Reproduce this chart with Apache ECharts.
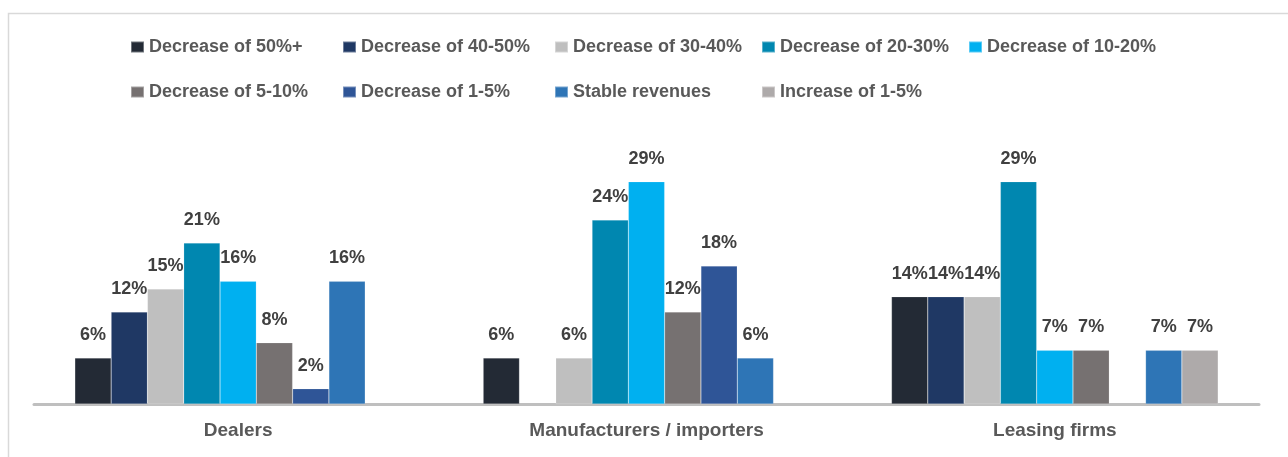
<!DOCTYPE html>
<html>
<head>
<meta charset="utf-8">
<title>Revenue change by segment</title>
<script src="https://cdn.jsdelivr.net/npm/echarts@6/dist/echarts.min.js"></script>
<style>
  html, body { margin: 0; padding: 0; background: #ffffff; }
  #chart { width: 1288px; height: 457px; }
</style>
</head>
<body>
<div id="chart"></div>
<script>
// Segments on the category axis
const categories = ['Dealers', 'Manufacturers / importers', 'Leasing firms'];

// Revenue-change buckets (one series each)
const bucketNames = [
  'Decrease of 50%+',
  'Decrease of 40-50%',
  'Decrease of 30-40%',
  'Decrease of 20-30%',
  'Decrease of 10-20%',
  'Decrease of 5-10%',
  'Decrease of 1-5%',
  'Stable revenues',
  'Increase of 1-5%'
];

// Share of respondents (%) per segment: Dealers, Manufacturers / importers, Leasing firms
const decrease50plus = [6, 6, 14];
const decrease40to50 = [12, null, 14];
const decrease30to40 = [15, 6, 14];
const decrease20to30 = [21, 24, 29];
const decrease10to20 = [16, 29, 7];
const decrease5to10  = [8, 12, 7];
const decrease1to5   = [2, 18, null];
const stableRevenue  = [16, 6, 7];
const increase1to5   = [null, null, 7];

const seriesValues = [
  decrease50plus, decrease40to50, decrease30to40, decrease20to30, decrease10to20,
  decrease5to10, decrease1to5, stableRevenue, increase1to5
];

const bucketColors = [
  '#232a35', '#1f3864', '#bfbfbf', '#0087b0', '#00b0f0',
  '#767171', '#2f5597', '#2e75b6', '#aeaaaa'
];

const FONT = '"Liberation Sans", Arial, Helvetica, sans-serif';

// Legend laid out as a two-row grid of fixed columns
const legendColX = [130, 342, 554, 761, 968];
const legendRowY = [38, 83];
const legends = bucketNames.map((name, i) => ({
  data: [name],
  left: legendColX[i % 5],
  top: legendRowY[Math.floor(i / 5)],
  padding: 0,
  icon: 'rect',
  itemWidth: 13,
  itemHeight: 11,
  selectedMode: false,
  textStyle: { color: '#595959', fontSize: 18, fontWeight: 'bold', fontFamily: FONT }
}));

const chart = echarts.init(document.getElementById('chart'), null, { renderer: 'canvas' });

chart.setOption({
  animation: false,
  backgroundColor: '#ffffff',
  graphic: [{
    type: 'rect',
    left: 6,
    top: 11,
    shape: { width: 1300, height: 500 },
    style: { fill: 'none', stroke: '#d9d9d9', lineWidth: 1.5 },
    silent: true,
    z: -10
  }],
  legend: legends,
  grid: { left: 34, right: 29, top: 174, bottom: 53, containLabel: false },
  xAxis: {
    type: 'category',
    data: categories,
    axisTick: { show: false },
    axisLine: { lineStyle: { color: '#bfbfbf', width: 3 } },
    axisLabel: {
      color: '#595959', fontSize: 19, fontWeight: 'bold', fontFamily: FONT, margin: 17
    }
  },
  yAxis: {
    type: 'value', min: 0, max: 30, show: false,
    splitLine: { show: false }
  },
  series: bucketNames.map((name, i) => ({
    name: name,
    type: 'bar',
    data: seriesValues[i],
    barGap: '0%',
    barCategoryGap: '20%',
    itemStyle: {
      color: bucketColors[i],
      borderColor: 'rgba(255,255,255,0.35)',
      borderWidth: 0.5
    },
    label: {
      show: true,
      position: 'top',
      distance: 14,
      formatter: '{c}%',
      color: '#404040',
      fontSize: 18,
      fontWeight: 'bold',
      fontFamily: FONT
    }
  }))
});
</script>
</body>
</html>
